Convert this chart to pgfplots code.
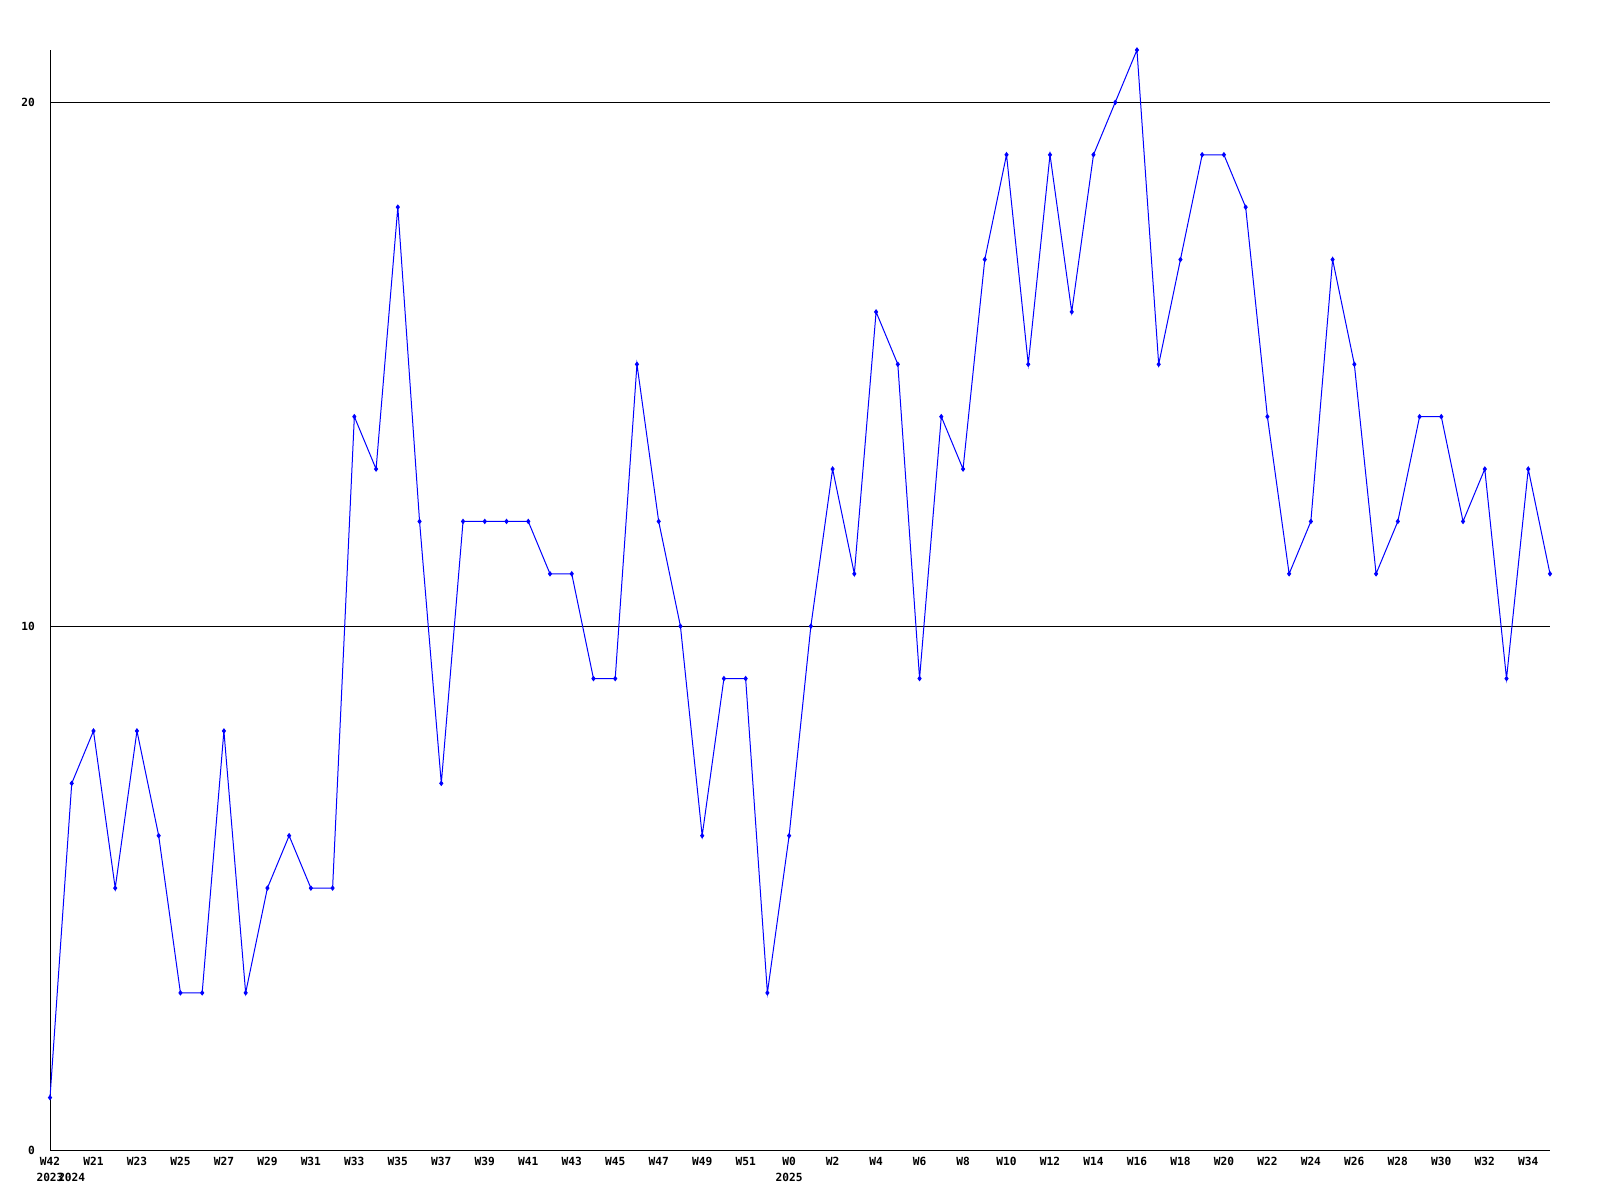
\documentclass[border=0pt]{standalone}
\usepackage{fontspec}
\setmonofont{DejaVu Sans Mono}
\usepackage{pgfplots}
\pgfplotsset{compat=1.18}
\begin{document}
\begin{tikzpicture}
\useasboundingbox (-25pt,-25pt) rectangle (775pt,575pt);
\begin{axis}[
  at={(0,0)}, anchor=south west,
  width=750pt, height=550pt, scale only axis,
  xmin=0, xmax=69, ymin=0, ymax=21,
  axis x line=bottom, axis y line=left,
  axis line style={black, line width=0.5pt, -},
  xtick={0,2,...,68},
  xticklabels={W42,W21,W23,W25,W27,W29,W31,W33,W35,W37,W39,W41,W43,W45,W47,W49,W51,W0,W2,W4,W6,W8,W10,W12,W14,W16,W18,W20,W22,W24,W26,W28,W30,W32,W34},
  ytick={0,10,20},
  ymajorgrids, grid style={black, line width=0.5pt},
  major tick length=0pt,
  tick label style={font=\ttfamily\bfseries\fontsize{5.6}{6}\selectfont},
  xticklabel style={yshift=0pt},
  yticklabel style={xshift=-4pt},
  /pgf/number format/assume math mode=true,
  clip=false,
]
\addplot[blue, line width=0.5pt, mark=diamond*, mark size=1pt, mark options={blue}] coordinates {
(0,1)(1,7)(2,8)(3,5)(4,8)(5,6)(6,3)(7,3)(8,8)(9,3)
(10,5)(11,6)(12,5)(13,5)(14,14)(15,13)(16,18)(17,12)(18,7)(19,12)
(20,12)(21,12)(22,12)(23,11)(24,11)(25,9)(26,9)(27,15)(28,12)(29,10)
(30,6)(31,9)(32,9)(33,3)(34,6)(35,10)(36,13)(37,11)(38,16)(39,15)
(40,9)(41,14)(42,13)(43,17)(44,19)(45,15)(46,19)(47,16)(48,19)(49,20)
(50,21)(51,15)(52,17)(53,19)(54,19)(55,18)(56,14)(57,11)(58,12)(59,17)
(60,15)(61,11)(62,12)(63,14)(64,14)(65,12)(66,13)(67,9)(68,13)(69,11)
};
\node[font=\ttfamily\bfseries\fontsize{5.6}{6}\selectfont, anchor=north] at (axis cs:0,0) [yshift=-8pt] {2023};
\node[font=\ttfamily\bfseries\fontsize{5.6}{6}\selectfont, anchor=north] at (axis cs:1,0) [yshift=-8pt] {2024};
\node[font=\ttfamily\bfseries\fontsize{5.6}{6}\selectfont, anchor=north] at (axis cs:34,0) [yshift=-8pt] {2025};
\end{axis}
\end{tikzpicture}
\end{document}
